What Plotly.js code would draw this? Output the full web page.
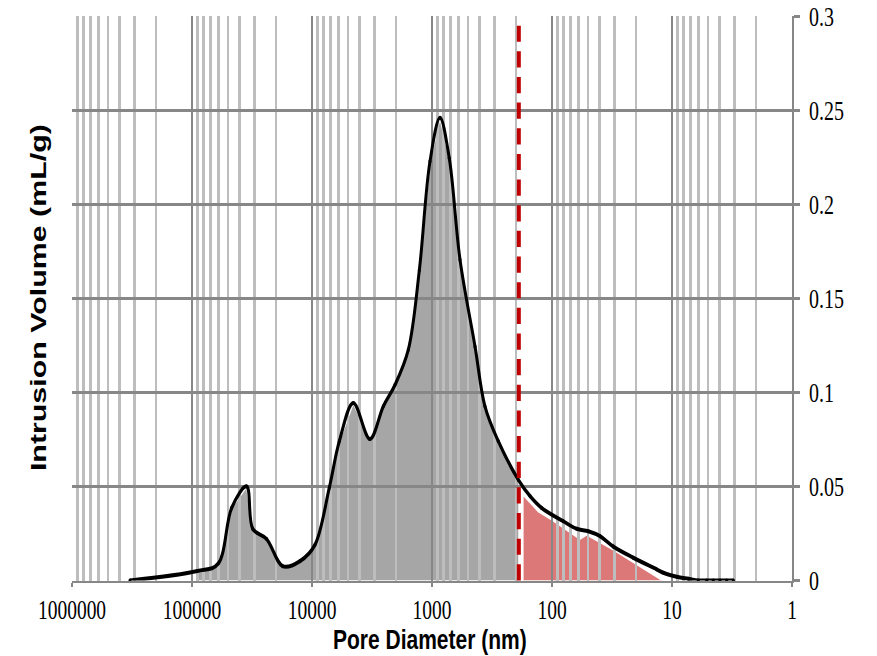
<!DOCTYPE html>
<html><head><meta charset="utf-8">
<script src="https://cdn.plot.ly/plotly-3.0.1.min.js"></script>
<style>
html,body{margin:0;padding:0;background:#fff;overflow:hidden}
#wrap{width:877px;height:656px;overflow:hidden;background:#fff}
#chart{width:877px;height:486px;transform:scaleY(1.35);transform-origin:0 0}
</style>
</head><body><div id="wrap"><div id="chart"></div></div>
<script>
// Pore diameter (nm) and intrusion volume (mL/g)
const poreDiameter = [328800, 90300, 60400, 46700, 35000, 31200, 23900, 17550, 12590, 9440,
  7180, 5920, 4530, 3290, 2545, 2033, 1575, 1276, 1040, 858,
  718, 584, 438, 362, 280, 191, 152, 122, 80.5, 62.3,
  49.8, 39.8, 30.8, 21.0, 13.4, 11.8, 9.14, 7.31, 6.04, 5.14,
  4.53, 3.98, 3.50, 3.08];
const intrusionVolume = [0, 0.005, 0.009, 0.0386, 0.050, 0.0275, 0.0221, 0.0076, 0.0103, 0.019,
  0.0492, 0.074, 0.0944, 0.0752, 0.0926, 0.104, 0.1227, 0.1648, 0.2227, 0.246,
  0.2245, 0.1705, 0.1244, 0.0926, 0.074, 0.0536, 0.0448, 0.0386, 0.0315, 0.0275,
  0.0262, 0.0236, 0.018, 0.0121, 0.0059, 0.0041, 0.002, 0.0009, 0, 0,
  0, 0, 0, 0];

// Gray shaded range (large pores) limits, nm
const grayFromDiameter = 90300;
const grayToDiameter = 191;

// Red shaded area (small pores) as drawn in the reference
const redFillDiameter = [175, 175, 130, 100.5, 58.4, 51.4, 30.8, 11.9];
const redFillVolume = [0, 0.0457, 0.0368, 0.0324, 0.0221, 0.0244, 0.0165, 0];

// Threshold (red dashed line), nm
const thresholdDiameter = 189;

// Axis ticks
const xTickValues = [1000000, 100000, 10000, 1000, 100, 10, 1];
const xTickLabels = ['1000000', '100000', '10000', '1000', '100', '10', '1'];
const yTickValues = [0, 0.05, 0.1, 0.15, 0.2, 0.25, 0.3];
const yTickLabels = ['0', '0.05', '0.1', '0.15', '0.2', '0.25', '0.3'];

const xTitle = 'Pore Diameter (nm)';
const yTitle = 'Intrusion Volume (mL/g)';

const grayX = [], grayY = [];
poreDiameter.forEach((d, i) => {
  if (d <= grayFromDiameter && d >= grayToDiameter) { grayX.push(d); grayY.push(intrusionVolume[i]); }
});

const GRID_DARK = '#878787';
const GRID_LIGHT = '#bdbdbd';

const traces = [
  { x: grayX, y: grayY, xaxis: 'x', yaxis: 'y', type: 'scatter', mode: 'lines',
    fill: 'tozeroy', fillcolor: '#a6a6a6', line: { color: '#ffffff', width: 1.5 },
    hoverinfo: 'skip', showlegend: false },
  { x: redFillDiameter, y: redFillVolume, xaxis: 'x', yaxis: 'y', type: 'scatter', mode: 'lines',
    fill: 'tozeroy', fillcolor: '#dc7878', line: { color: '#ffffff', width: 1.5 },
    hoverinfo: 'skip', showlegend: false },
  { x: poreDiameter, y: intrusionVolume, xaxis: 'x2', yaxis: 'y2', type: 'scatter', mode: 'lines+markers',
    line: { color: '#000000', width: 3, shape: 'spline', smoothing: 1 },
    marker: { color: '#000000', size: 3 }, showlegend: false, cliponaxis: false }
];

const layout = {
  width: 877, height: 486,
  margin: { l: 72, r: 85, t: 12, b: 56 },
  paper_bgcolor: '#ffffff', plot_bgcolor: 'rgba(0,0,0,0)',
  showlegend: false,
  xaxis: { type: 'log', range: [6, 0], domain: [0, 1], anchor: 'y', visible: false, showgrid: false, zeroline: false, fixedrange: true },
  yaxis: { range: [0, 0.3], domain: [0, 1], anchor: 'x', visible: false, showgrid: false, zeroline: false, fixedrange: true },
  xaxis2: {
    type: 'log', range: [6, 0], domain: [0, 1], anchor: 'y2',
    tickmode: 'array', tickvals: xTickValues, ticktext: xTickLabels,
    ticks: 'outside', ticklen: 3, tickwidth: 2, tickcolor: GRID_DARK,
    showline: true, linecolor: GRID_DARK, linewidth: 2,
    showgrid: true, gridcolor: GRID_DARK, gridwidth: 2, zeroline: false,
    minor: { dtick: 'D1', showgrid: true, gridcolor: GRID_LIGHT, gridwidth: 2.6, ticks: '' },
    tickfont: { family: 'Liberation Serif, Times New Roman, serif', size: 19.5, color: '#000' },
    ticklabelstandoff: 0, fixedrange: true
  },
  yaxis2: {
    range: [0, 0.3], domain: [0, 1], anchor: 'x2', side: 'right',
    tickmode: 'array', tickvals: yTickValues, ticktext: yTickLabels,
    ticks: 'outside', ticklen: 6, tickwidth: 2, tickcolor: GRID_DARK,
    showline: true, linecolor: GRID_DARK, linewidth: 2,
    showgrid: true, gridcolor: GRID_DARK, gridwidth: 2, zeroline: false,
    tickfont: { family: 'Liberation Serif, Times New Roman, serif', size: 20, color: '#000' },
    ticklabelstandoff: 5, fixedrange: true
  },
  shapes: [
    { type: 'line', xref: 'x2', yref: 'paper', x0: thresholdDiameter, x1: thresholdDiameter, y0: 0, y1: 1,
      line: { color: '#c00000', width: 4, dash: '12px,7px' }, layer: 'above' }
  ],
  annotations: [
    { text: '<b>' + xTitle + '</b>', xref: 'paper', yref: 'paper', x: 0.5, y: 0, xanchor: 'center', yanchor: 'middle',
      yshift: -43, xshift: -2, showarrow: false, font: { family: 'Liberation Sans, Arial, sans-serif', size: 21, color: '#000' } },
    { text: '<b>' + yTitle + '</b>', xref: 'paper', yref: 'paper', x: 0, y: 0.5, xanchor: 'center', yanchor: 'middle',
      xshift: -34, textangle: -90, showarrow: false, font: { family: 'Liberation Sans, Arial, sans-serif', size: 22.5, color: '#000' } }
  ]
};

Plotly.newPlot('chart', traces, layout, { displayModeBar: false, staticPlot: true });
</script></body></html>
